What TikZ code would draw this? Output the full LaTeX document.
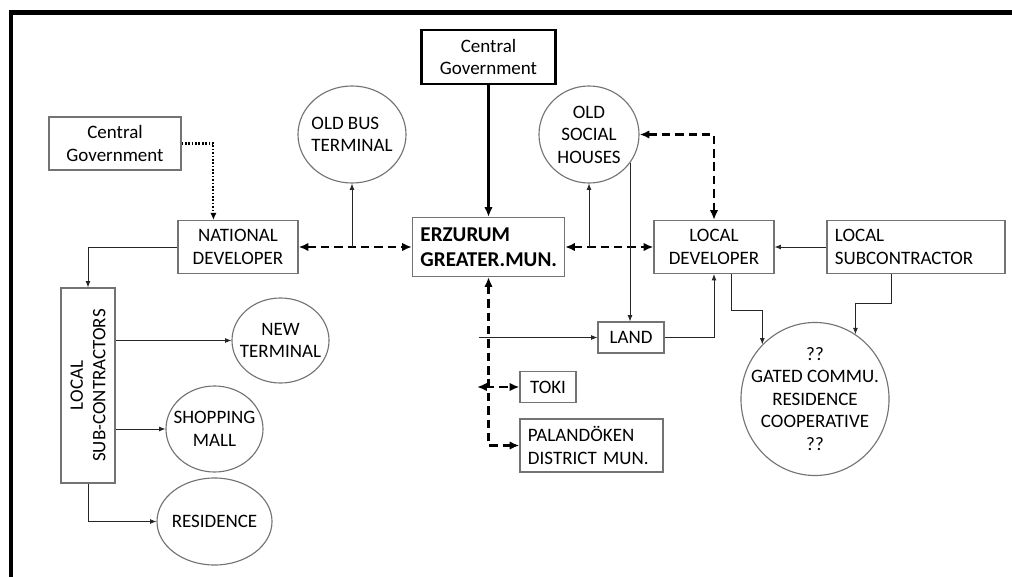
\documentclass[tikz,border=0pt]{standalone}
\usepackage{fontspec}
\setmainfont{Carlito}
\usetikzlibrary{shapes,arrows.meta}

\newcommand{\diagfont}{\fontsize{13.5}{16}\selectfont}

\tikzset{
  orgbox/.style={draw=black!55, line width=0.8pt, minimum height=1.325cm, align=center},
  govbox/.style={draw=black, line width=2pt, minimum width=3.35cm, minimum height=1.35cm, align=center},
  leftbox/.style={orgbox, align=left, inner xsep=0.2cm},
  bubble/.style={ellipse, draw=black!55, line width=0.8pt, inner sep=0pt},
  flow/.style={draw=black!85, line width=0.6pt, -{Latex[length=4.5pt,width=3.5pt]}},
  mainflow/.style={line width=2pt, -{Latex[length=7pt,width=6pt]}},
  dashflow/.style={line width=2pt, dash pattern=on 6pt off 3.5pt,
    {Latex[length=7pt,width=6pt]}-{Latex[length=7pt,width=6pt]}},
  dotflow/.style={line width=1.5pt, dash pattern=on 1.2pt off 1.2pt, -{Latex[length=5pt,width=4.5pt]}},
  every label/.append style={align=center}
}

\begin{document}
\begin{tikzpicture}[x=0.025cm, y=-0.025cm, font=\diagfont]
    \useasboundingbox (0,0) rectangle (1012,577);
    % frame
    \draw[line width=3.5pt] (11,577) -- (11,12.5) -- (1012,12.5);

    % boxes
    \node[govbox] (cgtop) at (488.5,57) {Central\\Government};
    \node[orgbox, minimum width=3.3cm] (cgleft) at (115,143.5) {Central\\Government};
    \node[orgbox, minimum width=3cm] (natdev) at (238,247) {NATIONAL\\DEVELOPER};
    \node[leftbox, text width=3.4cm, minimum height=1.475cm, font=\fontsize{15}{17.5}\selectfont\bfseries] (erz) at (488.5,247) {ERZURUM\\GREATER.MUN.};
    \node[orgbox, minimum width=3cm] (locdev) at (714,247) {LOCAL\\DEVELOPER};
    \node[leftbox, text width=4.05cm] (locsub) at (916,247) {LOCAL\\SUBCONTRACTOR};
    \node[orgbox, rotate=90, minimum width=4.875cm, minimum height=1.35cm] (lsc) at (88,385.5) {LOCAL\\SUB-CONTRACTORS};
    \node[orgbox, minimum width=1.65cm, minimum height=0.775cm] (land) at (631,337.5) {LAND};
    \node[orgbox, minimum width=1.4cm, minimum height=0.775cm] (toki) at (548,387) {TOKI};
    \node[leftbox, text width=3.175cm] (palan) at (591.5,445.5) {PALANDÖKEN\\DISTRICT MUN.};

    % bubbles
    \node[bubble, minimum width=2.7cm, minimum height=2.425cm, label={[align=left]center:OLD BUS\\TERMINAL}] (obt) at (352,134.5) {};
    \node[bubble, minimum width=2.5cm, minimum height=2.425cm, label={center:OLD\\SOCIAL\\HOUSES}] (osh) at (589,134.5) {};
    \node[bubble, minimum width=2.425cm, minimum height=2.125cm, label={center:NEW\\TERMINAL}] (newterm) at (280.5,340.5) {};
    \node[bubble, minimum width=2.425cm, minimum height=2.15cm, label={center:SHOPPING\\MALL}] (mall) at (214.5,429) {};
    \node[bubble, minimum width=2.875cm, minimum height=2.175cm, label={center:RESIDENCE}] (resid) at (214.5,521.5) {};
    \node[bubble, minimum width=3.7cm, minimum height=3.825cm, label={center:??\\GATED COMMU.\\RESIDENCE\\COOPERATIVE\\??}] (gated) at (815,399) {};

    \coordinate (landin) at (479,337.5);
    \coordinate (tokiend) at (477,387);

    % connectors
    \draw[mainflow] (cgtop) -- (erz);
    \draw[dotflow] (cgleft.east) -| ([xshift=0.9cm]natdev.north west);
    \draw[dashflow] (natdev) -- (erz);
    \draw[flow] (obt.south |- natdev.east) -- (obt.south);
    \draw[dashflow] (erz) -- (locdev);
    \draw[flow] (osh.south |- locdev.west) -- (osh.south);
    \draw[dashflow] (osh.east) -| (locdev.north);
    \draw[flow] (osh.-35) -- (osh.-35 |- land.north);
    \draw[flow] (locsub) -- (locdev);
    \draw[flow] (land.east) -| (locdev.south);
    \draw[flow] ([xshift=0.425cm]locdev.south) |- ([yshift=0.84cm]gated.134) -- (gated.134);
    \draw[flow] ([xshift=-0.625cm]locsub.south) |- ([yshift=0.765cm]gated.58) -- (gated.58);
    \draw[flow] (landin) -- (land.west);
    \draw[dashflow] (erz.south) |- (palan.west);
    \draw[dashflow] (tokiend) -- (toki.west);
    \draw[flow] (natdev.west) -| (lsc.east);
    \draw[flow] (lsc.south |- newterm.west) -- (newterm.west);
    \draw[flow] (lsc.south |- mall.west) -- (mall.west);
    \draw[flow] (lsc.west) |- (resid.west);
\end{tikzpicture}
\end{document}
